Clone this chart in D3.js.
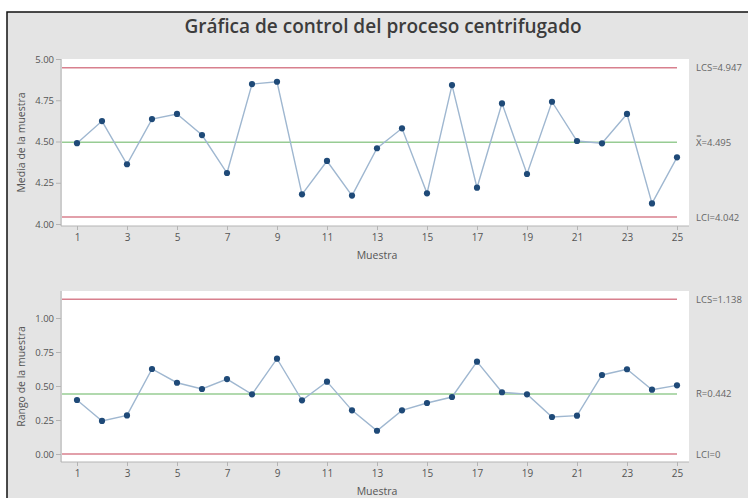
<!DOCTYPE html>
<html>
<head>
<meta charset="utf-8">
<script src="https://cdn.jsdelivr.net/npm/d3@7/dist/d3.min.js"></script>
<style>
  html, body { margin: 0; padding: 0; background: #fff; }
  svg { display: block; }
  text { font-family: "Open Sans", "Noto Sans", sans-serif; }
</style>
</head>
<body>
<svg id="chart" width="748" height="498"></svg>
<script>
// Muestras 1..25
const samples = d3.range(1, 26);

// Medias de cada muestra
const means = [4.490, 4.624, 4.362, 4.636, 4.667, 4.539, 4.309, 4.848, 4.862, 4.180,
               4.382, 4.172, 4.459, 4.580, 4.186, 4.842, 4.220, 4.731, 4.303, 4.741,
               4.503, 4.489, 4.667, 4.125, 4.404];

// Rangos de cada muestra
const ranges = [0.397, 0.243, 0.284, 0.625, 0.524, 0.478, 0.551, 0.439, 0.701, 0.395,
                0.532, 0.321, 0.171, 0.321, 0.375, 0.419, 0.679, 0.454, 0.439, 0.272,
                0.282, 0.581, 0.623, 0.473, 0.505];

// Límites de control
const meanLimits = { lcs: 4.947, center: 4.495, lci: 4.042 };
const rangeLimits = { lcs: 1.138, center: 0.442, lci: 0 };

const meanTicks = [4.00, 4.25, 4.50, 4.75, 5.00];
const rangeTicks = [0.00, 0.25, 0.50, 0.75, 1.00];
const xTicks = [1, 3, 5, 7, 9, 11, 13, 15, 17, 19, 21, 23, 25];

const title = "Gráfica de control del proceso centrifugado";

const svg = d3.select("#chart");
const W = 748, H = 498;

// Fondo y marco
svg.append("rect").attr("width", W).attr("height", H).attr("fill", "#ffffff");
svg.append("rect").attr("x", 7).attr("y", 12).attr("width", W).attr("height", H)
  .attr("fill", "#e4e4e4").attr("stroke", "#111").attr("stroke-width", 1.5);

svg.append("text")
  .attr("x", 383).attr("y", 33)
  .attr("text-anchor", "middle")
  .attr("font-size", 19).attr("font-weight", 600)
  .attr("fill", "#3c3c3c")
  .text(title);

const x = d3.scaleLinear().domain([0.4, 25.48]).range([62, 689]);

const colors = {
  limit: "#d8808e",
  center: "#97cc93",
  line: "#9fb7d0",
  point: "#1f4a78",
  tick: "#555",
  axis: "#b4b4b4"
};

function panel(opts) {
  const { values, limits, ticks, yDomain, yRange, top, bottom, yTitle, labels } = opts;
  const y = d3.scaleLinear().domain(yDomain).range(yRange);
  const g = svg.append("g");

  // área de trazado
  g.append("rect")
    .attr("x", x.range()[0]).attr("y", top)
    .attr("width", x.range()[1] - x.range()[0]).attr("height", bottom - top)
    .attr("fill", "#ffffff");

  // eje Y
  const yAxis = g.append("g")
    .attr("transform", `translate(${x.range()[0] - 1},0)`)
    .call(d3.axisLeft(y).tickValues(ticks).tickFormat(d3.format(".2f")).tickSize(5).tickPadding(2));
  yAxis.select(".domain").attr("stroke", colors.axis).attr("d", `M0,${top}V${bottom}`);
  yAxis.selectAll(".tick line").attr("stroke", colors.axis);
  yAxis.selectAll(".tick text").attr("font-size", 9.5).attr("fill", colors.tick)
    .attr("font-family", "'Open Sans', sans-serif");

  // eje X
  const xAxis = g.append("g")
    .attr("transform", `translate(0,${bottom})`)
    .call(d3.axisBottom(x).tickValues(xTicks).tickFormat(d3.format("d")).tickSize(4).tickPadding(4));
  xAxis.select(".domain").attr("stroke", colors.axis).attr("d", `M${x.range()[0] - 1},0H${x.range()[1]}`);
  xAxis.selectAll(".tick line").attr("stroke", colors.axis);
  xAxis.selectAll(".tick text").attr("font-size", 10).attr("fill", colors.tick)
    .attr("font-family", "'Open Sans', sans-serif");

  svg.append("text")
    .attr("x", 377).attr("y", bottom + 33)
    .attr("text-anchor", "middle").attr("font-size", 10.5).attr("fill", "#555")
    .text("Muestra");

  svg.append("text")
    .attr("transform", `translate(25,${(top + bottom) / 2}) rotate(-90)`)
    .attr("text-anchor", "middle").attr("font-size", 10.5).attr("fill", "#555")
    .text(yTitle);

  // líneas de control
  const x0 = x(1) - 15, x1 = x(25);
  [["lcs", colors.limit], ["lci", colors.limit], ["center", colors.center]].forEach(([k, c]) => {
    g.append("line")
      .attr("x1", x0).attr("x2", x1)
      .attr("y1", y(limits[k])).attr("y2", y(limits[k]))
      .attr("stroke", c).attr("stroke-width", 1.5);
  });

  // serie
  const line = d3.line().x((d, i) => x(samples[i])).y(d => y(d));
  g.append("path").datum(values)
    .attr("d", line).attr("fill", "none")
    .attr("stroke", colors.line).attr("stroke-width", 1.4);
  g.selectAll("circle.pt").data(values).join("circle")
    .attr("class", "pt")
    .attr("cx", (d, i) => x(samples[i])).attr("cy", d => y(d))
    .attr("r", 3.1).attr("fill", colors.point);

  // etiquetas de límites
  labels.forEach(([k, txt]) => {
    svg.append("text")
      .attr("x", 696).attr("y", y(limits[k]) + 3.5)
      .attr("font-size", 9.5).attr("fill", "#666")
      .text(txt);
  });
}

panel({
  values: means, limits: meanLimits, ticks: meanTicks,
  yDomain: [4.0, 5.0], yRange: [224, 59], top: 59, bottom: 226,
  yTitle: "Media de la muestra",
  labels: [["lcs", "LCS=4.947"], ["center", "X\u033F=4.495"], ["lci", "LCI=4.042"]]
});

panel({
  values: ranges, limits: rangeLimits, ticks: rangeTicks,
  yDomain: [0, 1.0], yRange: [454, 318], top: 291, bottom: 462,
  yTitle: "Rango de la muestra",
  labels: [["lcs", "LCS=1.138"], ["center", "R\u0304=0.442"], ["lci", "LCI=0"]]
});
</script>
</body>
</html>
